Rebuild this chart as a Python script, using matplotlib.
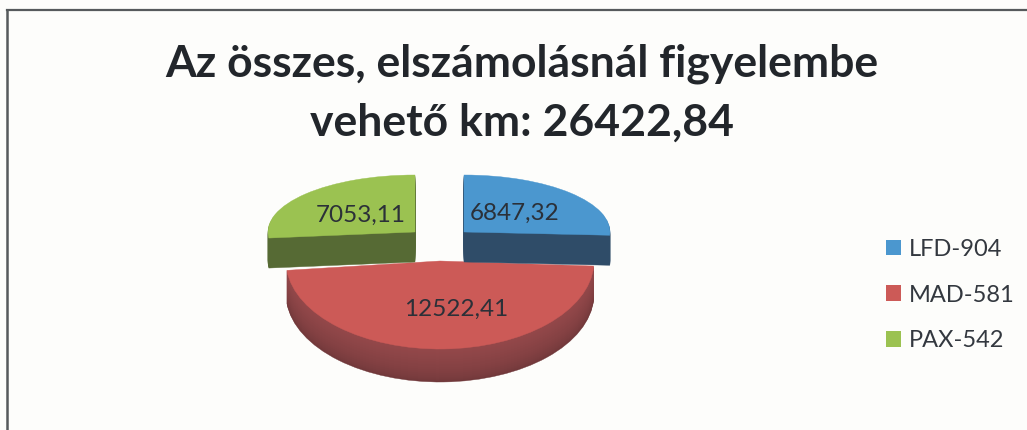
import matplotlib
matplotlib.use("Agg")
import matplotlib.pyplot as plt
from matplotlib.patches import Patch
from matplotlib.transforms import Affine2D

plt.rcParams["font.family"] = ["Lato", "DejaVu Sans"]

# data
series = ["LFD-904", "MAD-581", "PAX-542"]
values = [6847.32, 12522.41, 7053.11]
value_labels = ["6847,32", "12522,41", "7053,11"]
title = "Az összes, elszámolásnál figyelembe\nvehető km: 26422,84"

top_colors = ["#4b97cf", "#cc5a57", "#9bc251"]
wall_colors = ["#2f4c68", "#70383a", "#566a34"]
wall_left = ["#2f4c68", "#94484a", "#566a34"]

# slice geometry in pixels: centre x, centre y, radius x, radius y, depth
geom = [
    (464, 232, 146, 57, 30),
    (440, 261, 154, 88, 33),
    (415, 232, 147, 57, 30),
]
label_pos = [(515, 213), (456, 309), (361, 215)]

fig = plt.figure(figsize=(10.27, 4.3), dpi=100, facecolor="#fdfdfb")
ax = fig.add_axes([0, 0, 1, 1])


def draw_slices(i, dy, color):
    # one full pie per layer, only slice i is kept
    wedges, _ = ax.pie(values, startangle=90, counterclock=False, radius=1)
    cx, cy, rx, ry, _d = geom[i]
    for k, w in enumerate(wedges):
        if k != i:
            w.remove()
            continue
        w.set_facecolor(color)
        w.set_edgecolor(color)
        w.set_linewidth(0.3)
        w.set_transform(Affine2D().scale(rx, -ry).translate(cx, cy + dy) + ax.transData)
    return wedges[i]


# red first, blue and green sit on top of it
for i in [1, 0, 2]:
    depth = geom[i][4]
    for dy in range(depth, 0, -1):
        frac = dy / depth
        c = wall_colors[i]
        if i == 1:
            # wall gets darker to the bottom
            base = matplotlib.colors.to_rgb(wall_left[i])
            end = matplotlib.colors.to_rgb(wall_colors[i])
            c = tuple(b + (e - b) * (1 - frac) ** 0.6 for b, e in zip(end, base))
        draw_slices(i, dy, c)
    draw_slices(i, 0, top_colors[i])

ax.set_aspect("auto")
ax.set_xlim(0, 1027)
ax.set_ylim(430, 0)
ax.axis("off")

for txt, (x, y) in zip(value_labels, label_pos):
    ax.text(x, y, txt, fontsize=17.5, color="#2b3038", ha="center", va="center", zorder=20)

ax.text(522, 136, title, fontsize=32, fontweight="bold", color="#22262b", ha="center",
        va="baseline", linespacing=1.58, zorder=20)

# frame, only top and left are in the scan
ax.plot([7, 1027], [10, 10], color="#565a5c", lw=1.6, zorder=15)
ax.plot([7, 7], [10, 430], color="#565a5c", lw=1.8, zorder=15)

handles = [Patch(facecolor=c, edgecolor="none") for c in top_colors]
leg = ax.legend(handles, series, loc="center left", bbox_to_anchor=(886 / 1027, 1 - 295 / 430),
                frameon=False, fontsize=17, handlelength=0.64, handleheight=0.64, handletextpad=0.34,
                labelspacing=1.05, borderpad=0, borderaxespad=0, labelcolor="#33383f")

fig.savefig("out.png", dpi=100, facecolor=fig.get_facecolor())
